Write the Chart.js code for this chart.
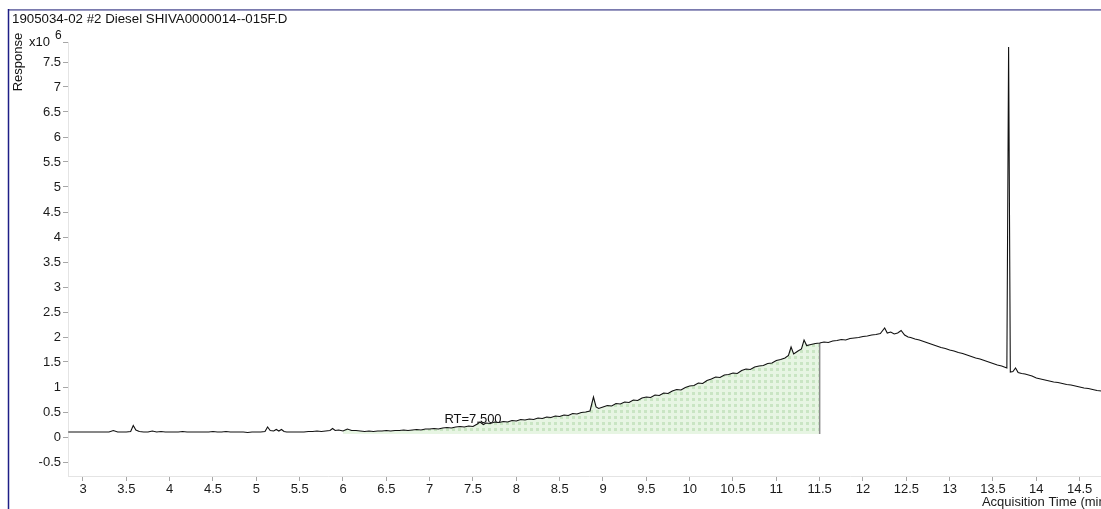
<!DOCTYPE html>
<html>
<head>
<meta charset="utf-8">
<title>1905034-02 #2 Diesel</title>
<script src="https://cdn.jsdelivr.net/npm/chart.js@4.4.1/dist/chart.umd.min.js"></script>
<style>
  html, body { margin: 0; padding: 0; background: #fff; overflow: hidden; width: 1101px; height: 509px; }
  #wrap { position: absolute; left: 0; top: 0; width: 1112px; height: 509px; }
</style>
</head>
<body>
<div id="wrap"><canvas id="chrom"></canvas></div>
<script>
// Sample and axis text
const sampleName = '1905034-02 #2 Diesel SHIVA0000014--015F.D';
const yAxisTitle = 'Response';
const xAxisTitle = 'Acquisition Time (min)';
const yExponent = '6';

// Chromatogram trace: retention time (min) and response (x10^6 counts)
const timeMin = [
  2.83, 2.90, 2.95, 3.00, 3.05, 3.10, 3.15, 3.20, 3.25, 3.30,
  3.35, 3.40, 3.45, 3.50, 3.55, 3.58, 3.61, 3.65, 3.70, 3.75,
  3.80, 3.85, 3.90, 3.95, 4.00, 4.05, 4.10, 4.15, 4.20, 4.25,
  4.30, 4.35, 4.40, 4.45, 4.50, 4.55, 4.60, 4.65, 4.70, 4.75,
  4.80, 4.85, 4.90, 4.95, 5.00, 5.05, 5.10, 5.13, 5.16, 5.20,
  5.23, 5.26, 5.29, 5.32, 5.35, 5.40, 5.45, 5.50, 5.55, 5.60,
  5.65, 5.70, 5.75, 5.80, 5.85, 5.88, 5.91, 5.95, 6.00, 6.05,
  6.10, 6.15, 6.20, 6.25, 6.30, 6.35, 6.40, 6.45, 6.50, 6.55,
  6.60, 6.65, 6.70, 6.75, 6.80, 6.85, 6.90, 6.95, 7.00, 7.05,
  7.10, 7.15, 7.20, 7.25, 7.30, 7.35, 7.40, 7.45, 7.50, 7.55,
  7.58, 7.62, 7.65, 7.70, 7.75, 7.80, 7.85, 7.90, 7.95, 8.00,
  8.05, 8.10, 8.15, 8.20, 8.25, 8.30, 8.35, 8.40, 8.45, 8.50,
  8.55, 8.60, 8.65, 8.70, 8.75, 8.80, 8.85, 8.89, 8.92, 8.95,
  9.00, 9.05, 9.10, 9.15, 9.20, 9.25, 9.30, 9.35, 9.40, 9.45,
  9.50, 9.55, 9.60, 9.65, 9.70, 9.75, 9.80, 9.85, 9.90, 9.95,
  10.00, 10.05, 10.10, 10.15, 10.20, 10.25, 10.30, 10.35, 10.40, 10.45,
  10.50, 10.55, 10.60, 10.65, 10.70, 10.75, 10.80, 10.85, 10.90, 10.95,
  11.00, 11.05, 11.10, 11.14, 11.17, 11.20, 11.25, 11.29, 11.32, 11.35,
  11.40, 11.45, 11.50, 11.55, 11.60, 11.65, 11.70, 11.75, 11.80, 11.85,
  11.90, 11.95, 12.00, 12.05, 12.10, 12.15, 12.20, 12.25, 12.28, 12.32,
  12.36, 12.40, 12.44, 12.48, 12.52, 12.55, 12.60, 12.65, 12.70, 12.75,
  12.80, 12.85, 12.90, 12.95, 13.00, 13.05, 13.10, 13.15, 13.20, 13.25,
  13.30, 13.35, 13.40, 13.45, 13.50, 13.55, 13.60, 13.63, 13.66, 13.68,
  13.70, 13.73, 13.76, 13.79, 13.83, 13.87, 13.91, 13.95, 14.00, 14.05,
  14.10, 14.15, 14.20, 14.25, 14.30, 14.35, 14.40, 14.45, 14.50, 14.55,
  14.60, 14.65, 14.70, 14.75, 14.80, 14.85
];
const responseE6 = [
  0.10, 0.10, 0.10, 0.10, 0.10, 0.10, 0.10, 0.10, 0.10, 0.10,
  0.13, 0.10, 0.10, 0.10, 0.11, 0.23, 0.14, 0.11, 0.10, 0.10,
  0.12, 0.10, 0.11, 0.10, 0.10, 0.10, 0.10, 0.11, 0.10, 0.10,
  0.10, 0.10, 0.10, 0.10, 0.11, 0.10, 0.10, 0.11, 0.10, 0.10,
  0.10, 0.10, 0.09, 0.10, 0.10, 0.10, 0.11, 0.20, 0.13, 0.12,
  0.15, 0.12, 0.15, 0.11, 0.10, 0.10, 0.10, 0.10, 0.10, 0.11,
  0.11, 0.12, 0.11, 0.12, 0.13, 0.17, 0.13, 0.14, 0.12, 0.16,
  0.13, 0.13, 0.12, 0.11, 0.12, 0.11, 0.12, 0.12, 0.13, 0.12,
  0.13, 0.13, 0.14, 0.13, 0.14, 0.15, 0.14, 0.16, 0.16, 0.17,
  0.16, 0.18, 0.19, 0.18, 0.20, 0.21, 0.20, 0.22, 0.21, 0.26,
  0.30, 0.25, 0.28, 0.27, 0.30, 0.29, 0.31, 0.30, 0.33, 0.32,
  0.35, 0.34, 0.36, 0.35, 0.38, 0.37, 0.40, 0.39, 0.42, 0.41,
  0.44, 0.43, 0.47, 0.46, 0.49, 0.50, 0.52, 0.80, 0.60, 0.57,
  0.60, 0.63, 0.62, 0.67, 0.66, 0.70, 0.69, 0.74, 0.73, 0.78,
  0.80, 0.79, 0.84, 0.83, 0.88, 0.87, 0.92, 0.95, 0.94, 0.99,
  1.02, 1.03, 1.08, 1.07, 1.13, 1.16, 1.20, 1.19, 1.24, 1.25,
  1.28, 1.27, 1.33, 1.36, 1.35, 1.40, 1.42, 1.43, 1.47, 1.48,
  1.53, 1.55, 1.58, 1.63, 1.80, 1.66, 1.72, 1.76, 1.94, 1.83,
  1.85, 1.87, 1.88, 1.90, 1.89, 1.92, 1.93, 1.95, 1.94, 1.97,
  1.98, 1.99, 2.01, 2.02, 2.04, 2.05, 2.07, 2.18, 2.08, 2.10,
  2.06, 2.08, 2.13, 2.04, 2.00, 1.99, 1.96, 1.94, 1.91, 1.88,
  1.85, 1.82, 1.79, 1.77, 1.74, 1.72, 1.69, 1.67, 1.64, 1.61,
  1.58, 1.56, 1.53, 1.50, 1.47, 1.44, 1.42, 1.40, 1.38, 7.80,
  1.30, 1.31, 1.38, 1.29, 1.27, 1.26, 1.24, 1.22, 1.18, 1.16,
  1.14, 1.12, 1.10, 1.09, 1.07, 1.05, 1.04, 1.02, 1.00, 0.98,
  0.97, 0.95, 0.93, 0.92, 0.90, 0.88
];

// Axis ticks
const xTicks = [3, 3.5, 4, 4.5, 5, 5.5, 6, 6.5, 7, 7.5, 8, 8.5, 9, 9.5, 10, 10.5, 11, 11.5, 12, 12.5, 13, 13.5, 14, 14.5];
const yTicks = [-0.5, 0, 0.5, 1, 1.5, 2, 2.5, 3, 3.5, 4, 4.5, 5, 5.5, 6, 6.5, 7, 7.5];
const xRange = [2.827, 14.85];
const yRange = [-0.78, 7.9];

// Integrated region (start, end in min) and its baseline level
const integrationWindow = [6.0, 11.5];
const integrationBaseline = 0.06;
// Retention time marker
const rtMarker = 7.5;
const rtLabelLevel = 0.36;

const FONT = '"Liberation Sans", Arial, sans-serif';

const trace = timeMin.map((t, i) => ({ x: t, y: responseE6[i] }));
const areaPoints = trace.filter(p => p.x >= integrationWindow[0] && p.x <= integrationWindow[1]);
const areaEnd = areaPoints[areaPoints.length - 1];
const areaEdge = [
  { x: integrationWindow[1], y: integrationBaseline },
  { x: integrationWindow[1], y: areaEnd.y }
];

// Dotted light-green fill used for the integrated area
function makeDotPattern() {
  const c = document.createElement('canvas');
  c.width = 6; c.height = 6;
  const g = c.getContext('2d');
  g.fillStyle = '#e7f5e3';
  g.fillRect(0, 0, 6, 6);
  g.fillStyle = '#c9e5c3';
  g.fillRect(2, 2, 3, 3);
  return g.createPattern(c, 'repeat');
}

const decorations = {
  id: 'decorations',
  beforeDraw(chart) {
    const ctx = chart.ctx;
    ctx.save();
    ctx.fillStyle = '#ffffff';
    ctx.fillRect(0, 0, chart.width, chart.height);
    ctx.restore();
  },
  afterDraw(chart) {
    const ctx = chart.ctx;
    const xs = chart.scales.x, ys = chart.scales.y;
    ctx.save();
    // frame
    ctx.strokeStyle = '#7a7aae';
    ctx.lineWidth = 1.8;
    ctx.beginPath(); ctx.moveTo(8, 9.8); ctx.lineTo(chart.width, 9.8); ctx.stroke();
    ctx.strokeStyle = '#1e1e86';
    ctx.lineWidth = 1.5;
    ctx.beginPath(); ctx.moveTo(8.5, 9); ctx.lineTo(8.5, chart.height); ctx.stroke();

    ctx.fillStyle = '#111';
    ctx.textBaseline = 'middle';
    // sample name
    ctx.font = '13.3px ' + FONT;
    ctx.textAlign = 'left';
    ctx.fillText(sampleName, 12, 19.5);
    // y axis title
    ctx.font = '13px ' + FONT;
    ctx.save();
    ctx.translate(18.5, 62);
    ctx.rotate(-Math.PI / 2);
    ctx.textAlign = 'center';
    ctx.fillText(yAxisTitle, 0, 0);
    ctx.restore();
    // exponent
    const yTop = ys.getPixelForValue(yRange[1]);
    ctx.textAlign = 'left';
    ctx.fillText('x10', 29, yTop + 0.5);
    ctx.font = '12px ' + FONT;
    ctx.fillText(yExponent, 55, yTop - 6);
    // retention time label
    ctx.font = '13px ' + FONT;
    ctx.textAlign = 'center';
    ctx.fillText('RT=' + rtMarker.toFixed(3), xs.getPixelForValue(rtMarker), ys.getPixelForValue(rtLabelLevel));
    ctx.restore();
  }
};

new Chart(document.getElementById('chrom'), {
  type: 'line',
  data: {
    datasets: [
      {
        data: trace,
        borderColor: '#111111',
        borderWidth: 1.1,
        pointRadius: 0,
        tension: 0,
        fill: false,
        order: 0
      },
      {
        data: areaEdge,
        borderColor: '#8c8c8c',
        borderWidth: 1.5,
        pointRadius: 0,
        fill: false,
        order: 1
      },
      {
        data: areaPoints,
        borderWidth: 0,
        borderColor: 'rgba(0,0,0,0)',
        backgroundColor: makeDotPattern(),
        pointRadius: 0,
        tension: 0,
        fill: { value: integrationBaseline },
        order: 2
      }
    ]
  },
  options: {
    responsive: true,
    maintainAspectRatio: false,
    animation: false,
    events: [],
    layout: { padding: { left: 8, top: 42, right: 2, bottom: 0 } },
    plugins: { legend: { display: false }, tooltip: { enabled: false }, title: { display: false } },
    scales: {
      x: {
        type: 'linear',
        min: xRange[0],
        max: xRange[1],
        afterBuildTicks(scale) { scale.ticks = xTicks.map(v => ({ value: v })); },
        afterFit(scale) { scale.height = 33; },
        grid: { drawOnChartArea: false, drawTicks: true, tickLength: 5, color: '#a6a6a6' },
        border: { display: true, color: '#e4e4e4', width: 1 },
        ticks: {
          autoSkip: false, maxRotation: 0, padding: 1,
          color: '#1a1a1a', font: { family: FONT, size: 13 },
          callback: v => String(Math.round(v * 10) / 10)
        },
        title: {
          display: true, text: xAxisTitle, align: 'end',
          color: '#1a1a1a', font: { family: FONT, size: 13, lineHeight: 1 }, padding: { top: 0, bottom: 0 }
        }
      },
      y: {
        type: 'linear',
        min: yRange[0],
        max: yRange[1],
        afterBuildTicks(scale) { scale.ticks = yTicks.concat([yRange[1]]).map(v => ({ value: v })); },
        afterFit(scale) { scale.width = 60; },
        grid: { drawOnChartArea: false, drawTicks: true, tickLength: 5, color: '#a6a6a6' },
        border: { display: true, color: '#e4e4e4', width: 1 },
        ticks: {
          autoSkip: false, padding: 2,
          color: '#1a1a1a', font: { family: FONT, size: 13 },
          callback: v => (v === yRange[1] ? '' : String(Math.round(v * 10) / 10))
        }
      }
    }
  },
  plugins: [decorations]
});
</script>
</body>
</html>
